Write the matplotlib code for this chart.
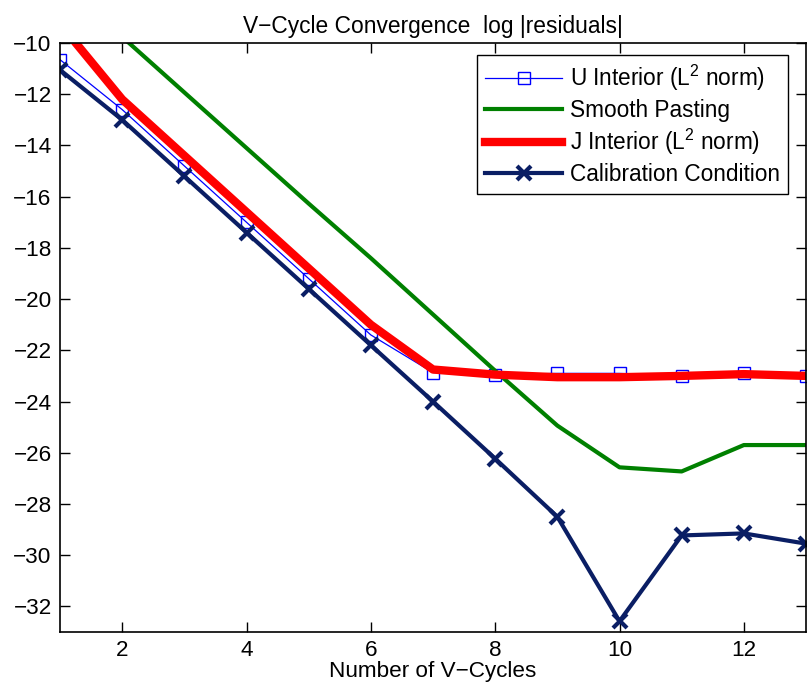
import matplotlib
matplotlib.use("Agg")
import matplotlib.pyplot as plt

plt.rcParams['font.family'] = ['Liberation Sans', 'DejaVu Sans']
plt.rcParams['mathtext.fontset'] = 'custom'
plt.rcParams['mathtext.rm'] = 'Liberation Sans'
plt.rcParams['mathtext.it'] = 'Liberation Sans'
plt.rcParams['axes.unicode_minus'] = True

cycles = [1, 2, 3, 4, 5, 6, 7, 8, 9, 10, 11, 12, 13]
u_interior = [-10.65, -12.6, -14.8, -17.0, -19.2, -21.4, -22.87, -22.95, -22.9, -22.9, -23.0, -22.9, -23.0]
smooth_pasting = [-7.6, -9.76, -11.93, -14.1, -16.27, -18.4, -20.6, -22.8, -24.94, -26.57, -26.73, -25.7, -25.7]
j_interior = [-9.25, -12.2, -14.4, -16.6, -18.8, -21.0, -22.75, -22.95, -23.05, -23.05, -23.0, -22.93, -23.0]
calibration = [-11.05, -13.0, -15.2, -17.4, -19.6, -21.8, -24.0, -26.23, -28.5, -32.58, -29.23, -29.15, -29.55]

labels = ['U Interior (L$^2$ norm)', 'Smooth Pasting', 'J Interior (L$^2$ norm)', 'Calibration Condition']
xticks = [2, 4, 6, 8, 10, 12]
yticks = [-32, -30, -28, -26, -24, -22, -20, -18, -16, -14, -12, -10]

fig = plt.figure(figsize=(8.09, 6.94), dpi=100)
ax = fig.add_axes([60/809, 1-632/694, 746/809, 589/694])

ax.plot(cycles, u_interior, color='#0000ff', lw=0.9, marker='s', ms=8,
        mfc='none', mec='#0000ff', mew=1.0, label=labels[0])
ax.plot(cycles, smooth_pasting, color='#008000', lw=3.0, label=labels[1])
ax.plot(cycles, j_interior, color='#ff0000', lw=6.0, label=labels[2])
ax.plot(cycles, calibration, color='#0a1e64', lw=3.0, marker='x', ms=10,
        mew=3.0, label=labels[3])

ax.set_xlim(1, 13)
ax.set_ylim(-33, -10)
ax.set_xticks(xticks)
ax.set_yticks(yticks)
ax.tick_params(direction='in', top=True, right=True, length=7, width=1.0,
               labelsize=16.2, pad=6)
for s in ax.spines.values():
    s.set_linewidth(1.2)

ax.set_title('V\u2212Cycle Convergence  log |residuals|', fontsize=16.4, pad=7)
ax.set_xlabel('Number of V\u2212Cycles', fontsize=16.2, labelpad=0)

leg = ax.legend(loc='upper right', bbox_to_anchor=(0.976, 0.980), borderaxespad=0,
                fontsize=16.3, frameon=True, fancybox=False, edgecolor='black',
                framealpha=1, handlelength=3.4, labelspacing=0.25,
                handletextpad=0.35, borderpad=0.35)
leg.get_frame().set_linewidth(1.0)

fig.savefig('out.png', dpi=100)
